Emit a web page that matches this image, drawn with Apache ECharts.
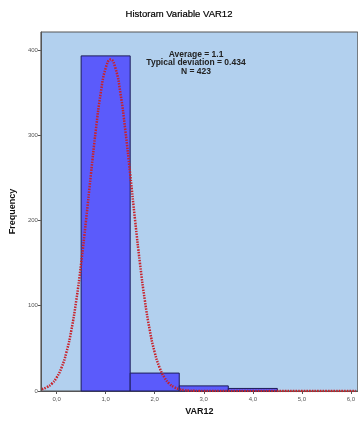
<!DOCTYPE html>
<html><head><meta charset="utf-8">
<script src="https://cdn.jsdelivr.net/npm/echarts@6/dist/echarts.min.js"></script>
<style>html,body{margin:0;padding:0;background:#fff}#c{width:358px;height:421px}</style>
</head><body><div id="c"></div>
<script>
const binStart = [0.5, 1.5, 2.5, 3.5];
const binEnd   = [1.5, 2.5, 3.5, 4.5];
const counts   = [393, 21, 6, 3];
const curveX = [-0.3,-0.2,-0.1,0.0,0.1,0.2,0.3,0.4,0.5,0.6,0.7,0.8,0.9,1.0,1.1,1.2,1.3,1.4,1.5,1.6,1.7,1.8,1.9,2.0,2.1,2.2,2.3,2.4,2.5,2.6,2.7,2.8,2.9,3.0,3.5,4.0,4.5,5.0,5.5,6.0,6.1];
const curveY = [2.1,4.4,8.5,15.7,27.3,45.3,71.1,105.9,149.5,200.2,254.3,306.2,349.6,378.6,388.8,378.6,349.6,306.2,254.3,200.2,149.5,105.9,71.1,45.3,27.3,15.7,8.5,4.4,2.1,1.0,0.4,0.2,0.1,0.0,0,0,0,0,0,0,0];
const xTicks = [0,1,2,3,4,5,6];
const yTicks = [0,100,200,300,400];
const statLines = ['Average = 1.1','Typical deviation = 0.434','N = 423'];

const chart = echarts.init(document.getElementById('c'), null, {renderer:'canvas'});
const font = 'Liberation Sans, Arial, sans-serif';
chart.setOption({
  animation:false,
  title:{text:'Historam Variable VAR12', left:'center', top:4,
    textStyle:{fontFamily:font, fontSize:9.5, fontWeight:'normal', color:'#000', textBorderColor:'#000', textBorderWidth:0.2}},
  grid:{left:37, top:32, right:-2, bottom:28, show:true, backgroundColor:'#b2d0ee', borderColor:'#555', borderWidth:1},
  xAxis:{type:'value', min:-0.32, max:6.14,
    name:'VAR12', nameLocation:'middle', nameGap:16,
    nameTextStyle:{fontFamily:font, fontSize:9, fontWeight:'bold', color:'#111'},
    axisLine:{show:true, onZero:false, lineStyle:{color:'#555'}},
    splitLine:{show:false},
    axisTick:{show:true, length:3, customValues:xTicks, lineStyle:{color:'#555'}},
    axisLabel:{customValues:xTicks, fontFamily:font, fontSize:6, color:'#555', margin:5,
      formatter:v=>v.toFixed(1).replace('.',',')}
  },
  yAxis:{type:'value', min:0, max:421,
    name:'Frequency', nameLocation:'middle', nameGap:17, nameRotate:90,
    nameTextStyle:{fontFamily:font, fontSize:9, fontWeight:'bold', color:'#111'},
    axisLine:{show:true, onZero:false, lineStyle:{color:'#555'}},
    splitLine:{show:false},
    axisTick:{show:true, length:3, customValues:yTicks, lineStyle:{color:'#555'}},
    axisLabel:{customValues:yTicks, fontFamily:font, fontSize:6, color:'#555', margin:3}
  },
  graphic:[{type:'text', x:196, y:50,
    style:{text:statLines.join('\n'), textAlign:'center', fontFamily:font, fontSize:8.5, fontWeight:'bold', fill:'#222', lineHeight:8.5}}],
  series:[
    {type:'custom', data:counts.map((c,i)=>[binStart[i],binEnd[i],c]),
     renderItem:(params, api)=>{
       const p0 = api.coord([api.value(0), api.value(2)]);
       const p1 = api.coord([api.value(1), 0]);
       return {type:'rect', shape:{x:p0[0], y:p0[1], width:p1[0]-p0[0], height:p1[1]-p0[1]},
         style:{fill:'#5b5bfb', stroke:'#1c1c5a', lineWidth:1}};
     }, encode:{x:[0,1], y:2}, z:2},
    {type:'line', data:curveX.map((x,i)=>[x,curveY[i]]), smooth:true, showSymbol:false,
     lineStyle:{color:'#c8222a', width:2.5, type:[1.5,1.2]}, z:3}
  ]
});
</script></body></html>
